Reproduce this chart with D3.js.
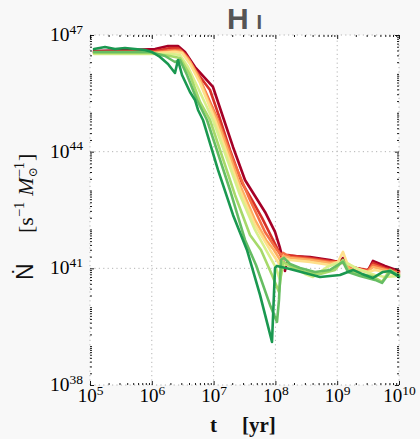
<!DOCTYPE html>
<html>
<head>
<meta charset="utf-8">
<script src="https://cdn.jsdelivr.net/npm/d3@7"></script>
<style>
  html, body { margin: 0; padding: 0; background: #f8f8f8; }
  svg { display: block; }
</style>
</head>
<body>
<svg id="chart" width="420" height="439"></svg>
<script>
// Axis decades (log10) and labelled decades
const xDecades = [5, 6, 7, 8, 9, 10];
const yDecades = [38, 39, 40, 41, 42, 43, 44, 45, 46, 47];
const yLabelled = [38, 41, 44, 47];

// Series colours, dark red -> dark green (drawn in this order)
const seriesColors = ["#a50026", "#d73027", "#f46d43", "#fdae61", "#fee08b",
                      "#d9ef8b", "#a6d96a", "#66bd63", "#1a9850"];

// Each series: [log10 t / yr, log10 Ndot / (s^-1 Msun^-1)]
const seriesDarkRed = [
  [5.065,46.589],[5.647,46.614],[6.052,46.640],[6.262,46.717],[6.424,46.717],[6.537,46.563],
  [6.699,46.177],[6.990,45.663],[7.136,44.969],[7.314,44.121],[7.508,43.272],[7.670,42.861],
  [7.832,42.450],[7.994,41.936],[8.074,41.524],[8.123,41.216],[8.155,40.933],[8.188,41.165],
  [8.269,41.319],[8.560,41.293],[8.883,41.216],[9.013,41.165],[9.094,41.267],[9.175,41.062],
  [9.369,40.985],[9.498,40.933],[9.579,41.190],[9.773,41.062],[10.0,40.933]
];
const seriesRed = [
  [5.065,46.563],[6.052,46.589],[6.294,46.666],[6.424,46.666],[6.537,46.512],[6.699,46.100],
  [6.942,45.586],[7.087,44.918],[7.265,44.044],[7.460,43.195],[7.621,42.758],[7.783,42.296],
  [7.945,41.782],[8.058,41.422],[8.107,41.267],[8.204,41.344],[8.560,41.267],[8.883,41.190],
  [9.094,41.165],[9.207,41.036],[9.498,40.959],[9.579,41.139],[9.773,41.010],[10.0,40.907]
];
const seriesOrange = [
  [5.065,46.563],[6.052,46.563],[6.327,46.614],[6.456,46.614],[6.586,46.409],[6.748,45.972],
  [6.893,45.458],[7.071,44.815],[7.314,43.787],[7.589,42.758],[7.832,41.936],[8.026,41.473],
  [8.091,41.344],[8.123,41.396],[8.236,41.293],[8.560,41.242],[8.883,41.165],[9.094,41.139],
  [9.207,41.010],[9.498,40.933],[9.579,41.087],[9.773,40.985],[10.0,40.882]
];
const seriesLightOrange = [
  [5.065,46.537],[6.052,46.537],[6.375,46.589],[6.489,46.563],[6.618,46.306],[6.780,45.843],
  [6.909,45.329],[7.055,44.815],[7.427,43.144],[7.670,42.244],[7.848,41.730],[7.977,41.473],
  [8.058,41.267],[8.091,41.165],[8.123,41.319],[8.236,41.267],[8.560,41.216],[8.883,41.139],
  [9.094,41.165],[9.207,40.985],[9.498,40.907],[9.579,41.036],[9.773,40.959],[10.0,40.856]
];
const seriesYellow = [
  [5.065,46.537],[6.052,46.537],[6.375,46.563],[6.489,46.537],[6.618,46.254],[6.780,45.766],
  [6.893,45.329],[7.023,44.815],[7.427,43.015],[7.670,42.116],[7.913,41.473],[8.042,41.165],
  [8.091,41.010],[8.123,41.267],[8.236,41.216],[8.560,41.165],[8.883,41.087],[9.013,41.165],
  [9.094,41.422],[9.159,41.139],[9.288,41.010],[9.498,40.907],[9.612,40.959],[9.773,40.907],
  [10.0,40.830]
];
const seriesPaleGreen = [
  [5.065,46.512],[6.052,46.512],[6.327,46.512],[6.456,46.486],[6.586,46.177],[6.748,45.637],
  [6.861,45.252],[6.990,44.815],[7.427,42.887],[7.670,41.987],[7.848,41.473],[8.010,41.010],
  [8.074,40.702],[8.107,40.959],[8.155,41.113],[8.317,41.010],[8.479,40.856],[8.608,40.779],
  [8.722,40.907],[8.835,41.036],[8.964,41.113],[9.094,41.165],[9.207,41.087],[9.369,40.959],
  [9.612,40.830],[9.773,40.779],[10.0,40.805]
];
const seriesLightGreen = [
  [5.065,46.537],[5.971,46.537],[6.294,46.460],[6.456,46.409],[6.618,45.972],[6.780,45.278],
  [6.942,44.815],[7.346,42.887],[7.589,41.859],[7.767,41.473],[7.945,40.830],[8.058,40.393],
  [8.091,40.830],[8.123,41.165],[8.236,41.062],[8.479,40.907],[8.722,40.856],[8.964,40.959],
  [9.094,41.216],[9.175,40.959],[9.369,40.856],[9.563,40.805],[9.725,40.651],[9.854,40.959],
  [10.0,40.805]
];
const seriesGreen = [
  [5.065,46.563],[5.971,46.563],[6.214,46.460],[6.375,46.306],[6.456,46.357],[6.570,45.972],
  [6.731,45.329],[6.893,44.815],[7.265,43.015],[7.508,41.730],[7.686,41.087],[7.913,40.059],
  [8.026,39.622],[8.058,40.188],[8.091,41.216],[8.139,41.267],[8.236,41.113],[8.398,41.010],
  [8.641,40.907],[8.883,40.959],[9.094,41.165],[9.175,40.907],[9.369,40.805],[9.612,40.702],
  [9.725,40.625],[9.854,40.907],[10.0,40.830]
];
const seriesDarkGreen = [
  [5.065,46.640],[5.243,46.691],[5.405,46.640],[5.566,46.666],[5.728,46.640],[5.890,46.614],
  [6.003,46.563],[6.133,46.434],[6.262,46.254],[6.375,46.023],[6.424,46.357],[6.489,45.972],
  [6.618,45.535],[6.699,45.329],[6.748,45.072],[6.828,44.815],[7.071,43.530],[7.314,42.373],
  [7.540,41.473],[7.751,40.316],[7.945,39.108],[7.994,41.010],[8.026,41.062],[8.236,40.985],
  [8.479,40.882],[8.722,40.779],[9.045,40.830],[9.256,40.959],[9.401,40.856],[9.579,40.753],
  [9.741,40.907],[9.854,40.933],[10.0,40.779]
];
const allSeries = [seriesDarkRed, seriesRed, seriesOrange, seriesLightOrange, seriesYellow,
                   seriesPaleGreen, seriesLightGreen, seriesGreen, seriesDarkGreen];

const svg = d3.select("#chart");
const x = d3.scaleLog().domain([1e5, 1e10]).range([90, 399]);
const y = d3.scaleLog().domain([1e38, 1e47]).range([385, 35]);
const [x0, x1] = x.range();
const [y0, y1] = y.range();

// plotting area
svg.append("rect")
  .attr("x", x0).attr("y", y1)
  .attr("width", x1 - x0).attr("height", y0 - y1)
  .attr("fill", "#ffffff");

// dotted grid at labelled decades
const grid = svg.append("g")
  .attr("stroke", "#b4b4b4").attr("stroke-width", 1).attr("stroke-dasharray", "1.2,3.2");
grid.selectAll("line.gx").data(xDecades).join("line").attr("class", "gx")
  .attr("x1", d => x(10 ** d)).attr("x2", d => x(10 ** d))
  .attr("y1", y0).attr("y2", y1);
grid.selectAll("line.gy").data(yLabelled).join("line").attr("class", "gy")
  .attr("y1", d => y(10 ** d)).attr("y2", d => y(10 ** d))
  .attr("x1", x0).attr("x2", x1);

// curves
const line = d3.line()
  .x(d => x(10 ** d[0]))
  .y(d => y(10 ** d[1]));
svg.append("g")
  .selectAll("path").data(allSeries).join("path")
  .attr("d", line)
  .attr("fill", "none")
  .attr("stroke", (d, i) => seriesColors[i])
  .attr("stroke-width", 2.6)
  .attr("stroke-linejoin", "round")
  .attr("stroke-linecap", "round");

// ticks on all four sides, pointing inward
function minorTicks(lo, hi) {
  const v = [];
  for (let e = lo; e < hi; e++) for (let m = 2; m < 10; m++) v.push(m * 10 ** e);
  return v;
}
const xMinor = minorTicks(5, 10);
const yMinor = minorTicks(38, 47).concat(yDecades.filter(d => !yLabelled.includes(d)).map(d => 10 ** d));
const xMajor = xDecades.map(d => 10 ** d);
const yMajor = yLabelled.map(d => 10 ** d);

function addAxis(gen, tx, ty, values, size) {
  const g = svg.append("g").attr("transform", `translate(${tx},${ty})`)
    .call(gen.tickValues(values).tickSizeInner(-size).tickSizeOuter(0).tickFormat(() => ""));
  g.select(".domain").remove();
  g.selectAll(".tick line").attr("stroke", "#000").attr("stroke-width", 0.9);
  return g;
}
addAxis(d3.axisTop(x), 0, y1, xMinor, 2);
addAxis(d3.axisTop(x), 0, y1, xMajor, 4);
addAxis(d3.axisRight(y), x1, 0, yMinor, 2);
addAxis(d3.axisRight(y), x1, 0, yMajor, 4);
addAxis(d3.axisBottom(x), 0, y0, xMinor, 2);
addAxis(d3.axisLeft(y), x0, 0, yMinor, 2);

// labelled bottom axis: 10^n
const xAxisG = addAxis(d3.axisBottom(x), 0, y0, xMajor, 4);
xAxisG.selectAll(".tick text")
  .attr("y", 16.5).attr("dy", null)
  .attr("font-family", "'Liberation Serif', 'DejaVu Serif', serif")
  .attr("font-size", 19).attr("fill", "#000")
  .each(function (d) {
    const t = d3.select(this);
    t.append("tspan").text("10");
    t.append("tspan").attr("dy", -6.5).attr("font-size", 13.5).text(Math.round(Math.log10(d)));
  });

// labelled left axis: 10^n
const yAxisG = addAxis(d3.axisLeft(y), x0, 0, yMajor, 4);
yAxisG.selectAll(".tick text")
  .attr("x", -7).attr("dy", 5.5)
  .attr("font-family", "'Liberation Serif', 'DejaVu Serif', serif")
  .attr("font-size", 19.5).attr("fill", "#000")
  .each(function (d) {
    const t = d3.select(this);
    t.append("tspan").text("10");
    t.append("tspan").attr("dy", -7.5).attr("font-size", 13.5).text(Math.round(Math.log10(d)));
  });

// title
const title = svg.append("text")
  .attr("x", (x0 + x1) / 2).attr("y", 29)
  .attr("text-anchor", "middle")
  .attr("font-family", "'Liberation Sans', Arial, sans-serif")
  .attr("font-weight", "bold").attr("fill", "#555");
title.append("tspan").attr("font-size", 30).text("H");
title.append("tspan").attr("font-size", 20).attr("dx", 8).text("I");

// x-axis label
const xl = svg.append("g")
  .attr("font-family", "'Liberation Serif', 'DejaVu Serif', serif")
  .attr("font-weight", "bold").attr("font-size", 21).attr("fill", "#111");
xl.append("text").attr("x", 210).attr("y", 432).text("t");
xl.append("text").attr("x", 242).attr("y", 432).text("[yr]");

// y-axis label, rotated; pieces laid out one after another
const yl = svg.append("g").attr("transform", `translate(33,${(y0 + y1) / 2}) rotate(-90)`);
const serif = "'Liberation Serif', 'DejaVu Serif', serif";
let cursor = -70;
function piece(str, opts) {
  const t = yl.append("text")
    .attr("x", cursor).attr("y", opts.shift || 0)
    .attr("font-family", opts.family || serif)
    .attr("font-size", opts.size || 21)
    .attr("font-style", opts.italic ? "italic" : "normal")
    .attr("fill", "#111")
    .text(str);
  const w = t.node().getComputedTextLength();
  if (!opts.noAdvance) cursor += w;
  return w;
}
piece("\u1E44", { family: "'Liberation Sans', 'DejaVu Sans', sans-serif", size: 23 });
cursor = -23;
piece("[s", { size: 22 });
piece("\u22121", { size: 14.5, shift: -9 });
cursor += 6;
piece("M", { italic: true, size: 22 });
piece("\u2299", { size: 12, shift: 4, noAdvance: true });
piece("\u22121", { size: 14.5, shift: -9 });
cursor += 1;
piece("]", { size: 22 });
</script>
</body>
</html>
